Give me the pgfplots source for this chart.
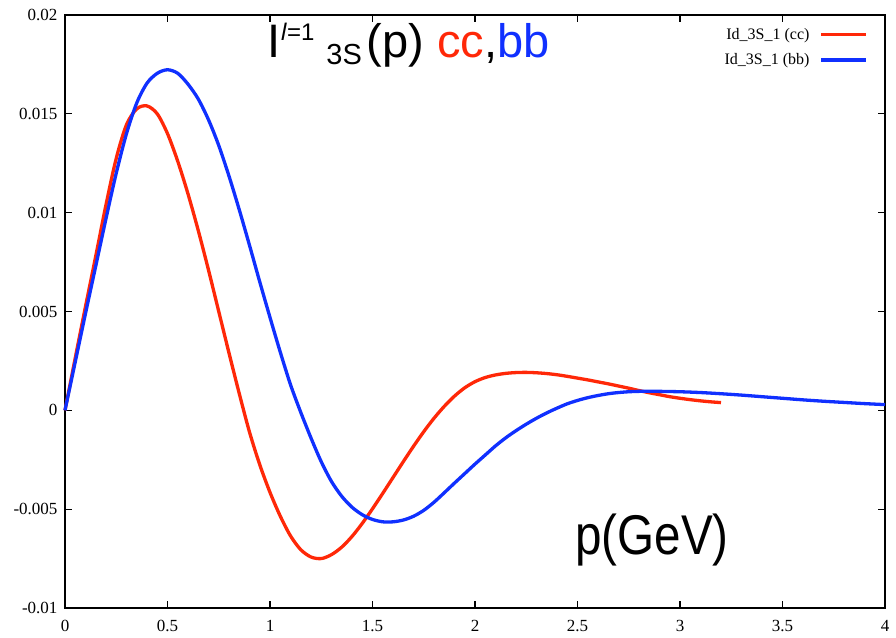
\documentclass[border=0pt]{standalone}
\usepackage{fontspec}
\setmainfont{Liberation Serif}
\newfontfamily\sansf{Liberation Sans}
\usepackage{pgfplots}
\usepackage{pgfplotstable}
\pgfplotsset{compat=1.18}
\definecolor{ccred}{RGB}{255,40,8}
\definecolor{bbblue}{RGB}{16,48,255}
\pgfplotstableread{
p v
0.00 0
0.05 2.65
0.10 5.25
0.15 7.80
0.20 10.40
0.25 12.75
0.30 14.45
0.35 15.25
0.40 15.40
0.45 15.00
0.50 14.00
0.55 12.60
0.60 10.95
0.65 9.10
0.70 7.10
0.75 5.00
0.80 2.90
0.85 0.85
0.90 -1.10
0.95 -2.75
1.00 -4.15
1.05 -5.35
1.10 -6.35
1.15 -7.05
1.20 -7.42
1.25 -7.50
1.30 -7.30
1.35 -6.92
1.40 -6.38
1.45 -5.72
1.50 -4.98
1.55 -4.20
1.60 -3.40
1.65 -2.60
1.70 -1.82
1.75 -1.08
1.80 -0.40
1.85 0.20
1.90 0.72
1.95 1.14
2.00 1.45
2.05 1.66
2.10 1.79
2.15 1.87
2.20 1.91
2.25 1.92
2.30 1.90
2.35 1.86
2.40 1.80
2.45 1.72
2.50 1.63
2.55 1.54
2.60 1.44
2.65 1.34
2.70 1.23
2.75 1.12
2.80 1.00
2.85 0.89
2.90 0.79
2.95 0.69
3.00 0.61
3.05 0.54
3.10 0.48
3.15 0.43
3.20 0.39
}\cctable
\pgfplotstableread{
p v
0.00 0
0.05 2.45
0.10 4.90
0.15 7.30
0.20 9.70
0.25 12.00
0.30 14.00
0.35 15.55
0.40 16.55
0.45 17.05
0.50 17.23
0.55 17.05
0.60 16.50
0.65 15.75
0.70 14.70
0.75 13.40
0.80 11.85
0.85 10.15
0.90 8.35
0.95 6.50
1.00 4.70
1.05 2.95
1.10 1.30
1.15 -0.10
1.20 -1.40
1.25 -2.60
1.30 -3.60
1.35 -4.35
1.40 -4.90
1.45 -5.28
1.50 -5.52
1.55 -5.64
1.60 -5.64
1.65 -5.55
1.70 -5.36
1.75 -5.06
1.80 -4.65
1.85 -4.17
1.90 -3.68
1.95 -3.20
2.00 -2.72
2.05 -2.26
2.10 -1.80
2.15 -1.39
2.20 -1.03
2.25 -0.70
2.30 -0.40
2.35 -0.13
2.40 0.11
2.45 0.33
2.50 0.50
2.55 0.64
2.60 0.75
2.65 0.84
2.70 0.90
2.75 0.94
2.80 0.96
2.85 0.965
2.90 0.96
3.00 0.94
3.10 0.90
3.20 0.84
3.30 0.77
3.40 0.69
3.50 0.61
3.60 0.53
3.70 0.46
3.80 0.40
3.90 0.34
4.00 0.29
}\bbtable
\begin{document}
\begin{tikzpicture}
\begin{axis}[
  scale only axis, width=820pt, height=593pt,
  xmin=0, xmax=4, ymin=-0.01, ymax=0.02,
  clip=false,
  xtick={0,0.5,1,1.5,2,2.5,3,3.5,4},
  xticklabels={0,0.5,1,1.5,2,2.5,3,3.5,4},
  ytick={-0.01,-0.005,0,0.005,0.01,0.015,0.02},
  yticklabels={-0.01,-0.005,0,0.005,0.01,0.015,0.02},
  scaled y ticks=false, scaled x ticks=false,
  tick align=inside, major tick length=7pt,
  axis line style={line width=1.3pt, black},
  every tick/.style={black, line width=1.1pt},
  ticklabel style={font=\rmfamily\fontsize{17}{17}\selectfont},
  xticklabel style={yshift=-9pt},
  yticklabel style={xshift=-4pt},
  legend plot pos=right,
  legend cell align=right,
  legend image code/.code={\draw[#1] (0pt,0pt) -- (45pt,0pt);},
  legend style={at={(rel axis cs:1,1)}, anchor=north east, xshift=-17pt, yshift=-13pt,
    draw=none, fill=none, inner sep=0pt, row sep=13pt, column sep=10pt,
    font=\rmfamily\fontsize{16}{16}\selectfont, nodes={inner sep=0pt}},
]
\addplot[ccred, line width=3.3pt, smooth] table[x=p, y expr=\thisrow{v}/1000] {\cctable};
\addlegendentry{Id\_3S\_1 (cc)}
\addplot[bbblue, line width=3.3pt, smooth] table[x=p, y expr=\thisrow{v}/1000] {\bbtable};
\addlegendentry{Id\_3S\_1 (bb)}
\node[anchor=base west, inner sep=0pt] at (rel axis cs:0.2463,0.9275)
  {\sansf\fontsize{47}{47}\selectfont I\hspace{1pt}\raisebox{17pt}{\fontsize{24}{24}\selectfont\textit{l}=1}\hspace{12pt}\raisebox{-7pt}{\fontsize{29}{29}\selectfont 3S}\hspace{5pt}(p) \textcolor{ccred}{cc},\textcolor{bbblue}{bb}};
\node[anchor=base west, inner sep=0pt] at (rel axis cs:0.622,0.0894)
  {\scalebox{0.85}[1]{\sansf\fontsize{56}{56}\selectfont p(GeV)}};
\end{axis}
\pgfresetboundingbox
\path (current axis.south west) ++(-65pt,-29pt) rectangle ++(896pt,637pt);
\end{tikzpicture}
\end{document}
